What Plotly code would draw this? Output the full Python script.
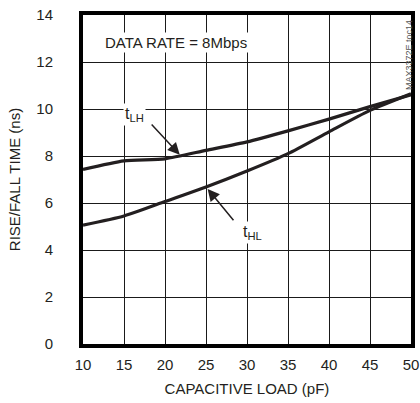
import plotly.graph_objects as go

load_pf = [10, 15, 20, 25, 30, 35, 40, 45, 50]
t_lh = [7.43, 7.79, 7.88, 8.24, 8.6, 9.07, 9.57, 10.1, 10.6]
t_hl = [5.06, 5.45, 6.06, 6.68, 7.36, 8.1, 9.03, 9.94, 10.65]

x_ticks = [10, 15, 20, 25, 30, 35, 40, 45, 50]
y_ticks = [0, 2, 4, 6, 8, 10, 12, 14]

FONT = "Liberation Sans Narrow, Arial Narrow, Liberation Sans, Arial, sans-serif"
INK = "#231f20"

fig = go.Figure()
fig.add_trace(go.Scatter(x=load_pf, y=t_lh, mode="lines", line=dict(color=INK, width=3.2, shape="spline", smoothing=0.6), name="tLH"))
fig.add_trace(go.Scatter(x=load_pf, y=t_hl, mode="lines", line=dict(color=INK, width=3.2, shape="spline", smoothing=0.6), name="tHL"))

fig.update_layout(
    width=420, height=403,
    margin=dict(l=83, r=9, t=15, b=59),
    paper_bgcolor="white", plot_bgcolor="white",
    showlegend=False,
    font=dict(family=FONT, size=15, color=INK),
)
fig.update_xaxes(
    range=[10, 50], tickvals=x_ticks, ticktext=[str(v) for v in x_ticks],
    showgrid=True, gridcolor="#1a1a1a", gridwidth=1.3,
    showline=True, linecolor="black", linewidth=4, mirror=True,
    ticks="outside", ticklen=4, tickcolor="rgba(0,0,0,0)",
    zeroline=False, automargin=False, ticklabeloverflow="allow",
    title=dict(text="CAPACITIVE LOAD (pF)", standoff=12, font=dict(size=15)),
    tickfont=dict(size=15),
)
fig.update_yaxes(
    range=[0, 14], tickvals=y_ticks, ticktext=[str(v) for v in y_ticks],
    showgrid=True, gridcolor="#1a1a1a", gridwidth=1.3,
    showline=True, linecolor="black", linewidth=4, mirror=True,
    ticks="outside", ticklen=23, tickcolor="rgba(0,0,0,0)",
    zeroline=False, automargin=False, ticklabeloverflow="allow",
    title=dict(text="RISE/FALL TIME (ns)", standoff=13, font=dict(size=15)),
    tickfont=dict(size=15),
)

fig.add_annotation(x=21.3, y=12.85, text="DATA RATE = 8Mbps", showarrow=False,
                   font=dict(size=15, family=FONT, color=INK), bgcolor="white")
# arrows
fig.add_annotation(x=21.8, y=8.05, ax=18.2, ay=9.4, axref="x", ayref="y", xref="x", yref="y",
                   text="", showarrow=True, arrowhead=2, arrowsize=1.6, arrowwidth=1.5, arrowcolor=INK)
fig.add_annotation(x=25.2, y=6.6, ax=28.5, ay=5.2, axref="x", ayref="y", xref="x", yref="y",
                   text="", showarrow=True, arrowhead=2, arrowsize=1.6, arrowwidth=1.5, arrowcolor=INK)
fig.add_annotation(x=16.3, y=9.75, text="t<sub>LH</sub>", showarrow=False,
                   font=dict(size=16, family=FONT, color=INK), bgcolor="white")
fig.add_annotation(x=30.7, y=4.75, text="t<sub>HL</sub>", showarrow=False,
                   font=dict(size=16, family=FONT, color=INK), bgcolor="white")
fig.add_annotation(x=1, xref="paper", xshift=5, y=12.3, yref="y", text="MAX3372E toc14", showarrow=False,
                   textangle=-90, font=dict(size=9, family=FONT, color="#555"))

# remove the browser's default 8px body margin so the figure fills the window
fig.write_html("out.html", config={"displayModeBar": False},
               post_script="document.body.style.margin='0';")
